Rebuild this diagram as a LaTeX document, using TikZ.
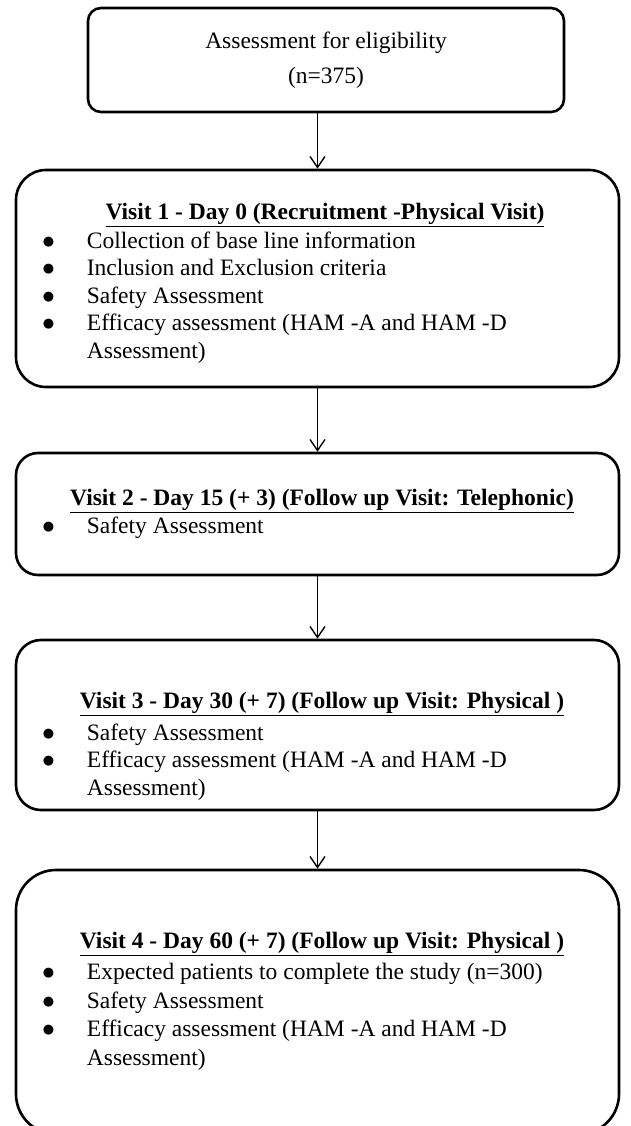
\documentclass[tikz,border=0pt]{standalone}
\usepackage{fontspec}
\setmainfont{Liberation Serif}
\newfontfamily\dotfont{DejaVu Sans}
\usetikzlibrary{arrows.meta}
\newcommand{\bodysize}{\fontsize{23.5pt}{27.5pt}\selectfont}
\newcommand{\itemdot}{\raisebox{3pt}{\dotfont\fontsize{13pt}{13pt}\selectfont ●}}
\newcommand{\visititems}[1]{\begin{tabular}{@{}p{44pt}@{}l@{}}#1\end{tabular}}
\begin{document}
\begin{tikzpicture}[x=1pt, y=-1pt, font=\bodysize,
    stage/.style={draw, line width=2.6pt, rounded corners=#1, inner sep=0pt, minimum width=603pt},
    stage/.default=28pt,
    head/.style={font=\bodysize\bfseries, anchor=base, inner sep=0pt},
    items/.style={anchor=north west, inner sep=0pt},
    flow/.style={-{Straight Barb[length=11pt, width=15pt]}, line width=1.4pt}]
    \useasboundingbox (0,0) rectangle (630,1126);
    % boxes
    \node[stage=13pt, minimum width=476pt, minimum height=104pt, align=center] (elig) at (326,60) {Assessment for eligibility\\[7pt](n=375)};
    \node[stage=30pt, minimum height=217pt] (v1) at (317.5,278.5) {};
    \node[stage=22pt, minimum height=122pt] (v2) at (317.5,514) {};
    \node[stage=25pt, minimum height=170pt] (v3) at (317.5,725) {};
    \node[stage=40pt, minimum height=264pt] (v4) at (317.5,1002) {};
    % titles and bullet lists
    \node[head] (v1head) at ([shift={(7.5,51)}]v1.north) {\underline{Visit 1 - Day 0 (Recruitment -Physical Visit)}};
    \node[items] (v1list) at ([shift={(28,60)}]v1.north west) {\visititems{
        \itemdot & Collection of base line information\\
        \itemdot & Inclusion and Exclusion criteria\\
        \itemdot & Safety Assessment\\
        \itemdot & Efficacy assessment (HAM -A and HAM -D\\
        & Assessment)}};
    \node[head] (v2head) at ([shift={(4.5,54)}]v2.north) {\underline{Visit 2 - Day 15 (+ 3) (Follow up Visit: Telephonic)}};
    \node[items] (v2list) at ([shift={(28,62)}]v2.north west) {\visititems{
        \itemdot & Safety Assessment}};
    \node[head] (v3head) at ([shift={(4.5,70)}]v3.north) {\underline{Visit 3 - Day 30 (+ 7) (Follow up Visit: Physical )}};
    \node[items] (v3list) at ([shift={(28,82)}]v3.north west) {\visititems{
        \itemdot & Safety Assessment\\
        \itemdot & Efficacy assessment (HAM -A and HAM -D\\
        & Assessment)}};
    \node[head] (v4head) at ([shift={(4.5,80)}]v4.north) {\underline{Visit 4 - Day 60 (+ 7) (Follow up Visit: Physical )}};
    \node[items] (v4list) at ([shift={(28,90)}]v4.north west) {\renewcommand{\arraystretch}{1.05}\visititems{
        \itemdot & Expected patients to complete the study (n=300)\\
        \itemdot & Safety Assessment\\
        \itemdot & Efficacy assessment (HAM -A and HAM -D\\
        & Assessment)}};
    % arrows
    \draw[flow] (v1.north |- elig.south) -- (v1.north);
    \draw[flow] (v1.south) -- (v2.north);
    \draw[flow] (v2.south) -- (v3.north);
    \draw[flow] (v3.south) -- (v4.north);
\end{tikzpicture}
\end{document}
